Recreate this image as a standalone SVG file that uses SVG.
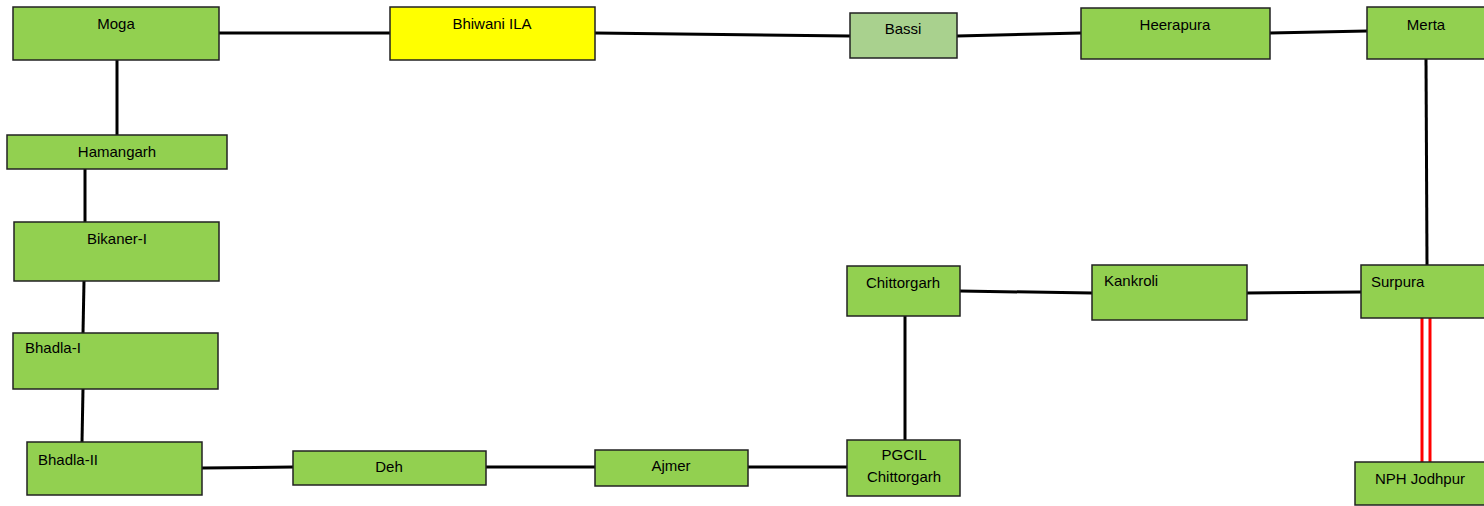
<svg xmlns="http://www.w3.org/2000/svg" width="1484" height="506" viewBox="0 0 1484 506">
<style>
.n{fill:#92D050;stroke:#222;stroke-width:1.5}
.y{fill:#FFFF00}
.lg{fill:#A9D18E}
.t{font-family:"Liberation Sans",Arial,sans-serif;font-size:15px;fill:#000}
.c{text-anchor:middle}
.e{stroke:#000;stroke-width:3;fill:none}
.r{stroke:#FF0000;stroke-width:3;fill:none}
</style>
<rect width="1484" height="506" fill="#fff"/>
<g id="connectors">
<line class="e" x1="219" y1="33" x2="390" y2="33"/>
<line class="e" x1="595" y1="33" x2="850" y2="36"/>
<line class="e" x1="957" y1="36" x2="1081" y2="33"/>
<line class="e" x1="1270" y1="33" x2="1367" y2="31"/>
<line class="e" x1="117" y1="60" x2="117" y2="135"/>
<line class="e" x1="85" y1="169" x2="85" y2="222"/>
<line class="e" x1="84" y1="281" x2="83" y2="333"/>
<line class="e" x1="83" y1="389" x2="82" y2="442"/>
<line class="e" x1="202" y1="468" x2="293" y2="467"/>
<line class="e" x1="486" y1="467" x2="595" y2="467"/>
<line class="e" x1="748" y1="467" x2="847" y2="467"/>
<line class="e" x1="905" y1="316" x2="905" y2="440"/>
<line class="e" x1="960" y1="291" x2="1092" y2="293"/>
<line class="e" x1="1247" y1="293" x2="1361" y2="292"/>
<line class="e" x1="1426" y1="59" x2="1427" y2="265"/>
<line class="r" x1="1422" y1="318" x2="1422" y2="462"/>
<line class="r" x1="1430" y1="318" x2="1430" y2="462"/>
</g>
<g id="moga"><rect class="n" x="13" y="7" width="206" height="53"/><text class="t c" x="116" y="29">Moga</text></g>
<g id="bhiwani"><rect class="n y" x="390" y="7" width="205" height="53"/><text class="t c" x="492" y="29">Bhiwani ILA</text></g>
<g id="bassi"><rect class="n lg" x="850" y="13" width="107" height="45"/><text class="t c" x="903" y="34">Bassi</text></g>
<g id="heerapura"><rect class="n" x="1081" y="8" width="189" height="51"/><text class="t c" x="1175" y="30">Heerapura</text></g>
<g id="merta"><rect class="n" x="1367" y="7" width="125" height="52"/><text class="t c" x="1426" y="30">Merta</text></g>
<g id="hamangarh"><rect class="n" x="7" y="135" width="220" height="34"/><text class="t c" x="117" y="157">Hamangarh</text></g>
<g id="bikaner"><rect class="n" x="14" y="222" width="205" height="59"/><text class="t c" x="117" y="244">Bikaner-I</text></g>
<g id="bhadla1"><rect class="n" x="13" y="333" width="205" height="56"/><text class="t" x="25" y="353">Bhadla-I</text></g>
<g id="bhadla2"><rect class="n" x="27" y="442" width="175" height="53"/><text class="t" x="38" y="465">Bhadla-II</text></g>
<g id="deh"><rect class="n" x="293" y="451" width="193" height="34"/><text class="t c" x="389" y="472">Deh</text></g>
<g id="ajmer"><rect class="n" x="595" y="450" width="153" height="36"/><text class="t c" x="671" y="471">Ajmer</text></g>
<g id="pgcil"><rect class="n" x="847" y="440" width="113" height="56"/><text class="t c" x="904" y="460">PGCIL</text><text class="t c" x="904" y="482">Chittorgarh</text></g>
<g id="chittorgarh"><rect class="n" x="847" y="266" width="113" height="50"/><text class="t c" x="903" y="288">Chittorgarh</text></g>
<g id="kankroli"><rect class="n" x="1092" y="265" width="155" height="55"/><text class="t" x="1104" y="286">Kankroli</text></g>
<g id="surpura"><rect class="n" x="1361" y="265" width="130" height="53"/><text class="t" x="1371" y="287">Surpura</text></g>
<g id="nph"><rect class="n" x="1355" y="462" width="136" height="43"/><text class="t c" x="1420" y="484">NPH Jodhpur</text></g>
</svg>
